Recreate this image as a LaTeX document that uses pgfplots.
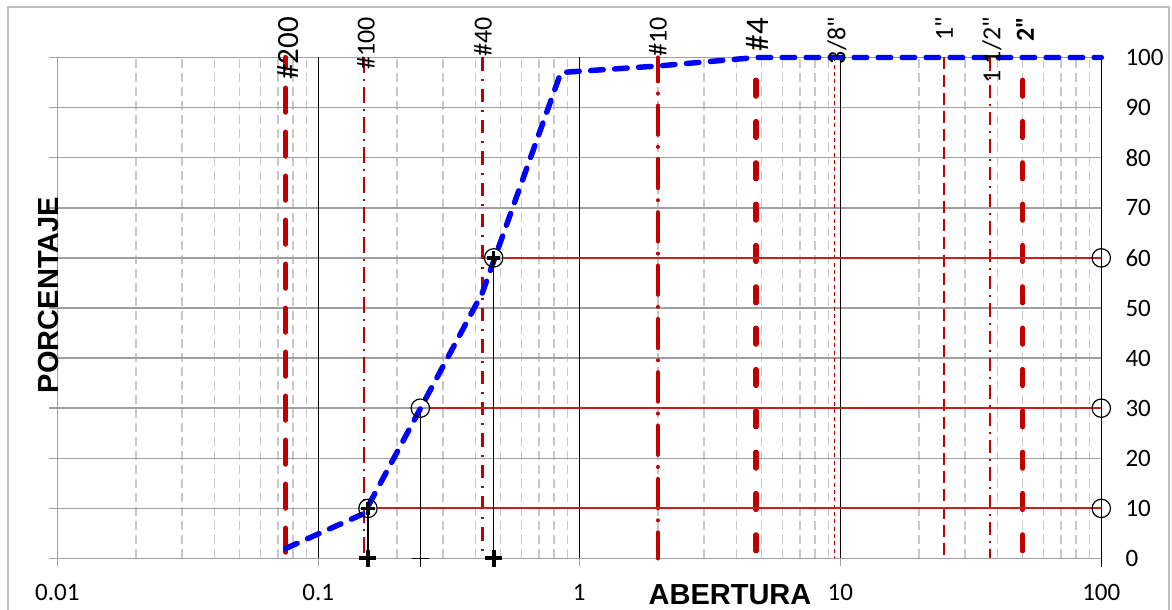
\documentclass[border=0pt]{standalone}
\usepackage{pgfplots}
\pgfplotsset{compat=1.18}
\usepackage{fontspec}
\setmainfont{Carlito}
\newfontfamily\callab{Carlito}[Ligatures=ResetAll]
\newfontfamily\arialfont{Liberation Sans}
\definecolor{dred}{RGB}{192,0,0}
\definecolor{hred}{RGB}{200,30,30}
\definecolor{bluec}{RGB}{0,0,255}
\definecolor{gridgray}{RGB}{160,160,160}
\definecolor{minorgray}{RGB}{200,200,200}
\definecolor{bordergray}{RGB}{190,190,190}
\begin{document}
\begin{tikzpicture}
\begin{axis}[
  at={(0,0)}, anchor=south west,
  xmode=log, scale only axis, width=783pt, height=375.75pt,
  xmin=0.01, xmax=100, ymin=0, ymax=100, clip=false,
  axis line style={draw=gridgray, line width=1.1pt},
  xtick={0.01,0.1,1,10,100}, xticklabels={0.01,0.1,1,10,100},
  minor xtick={0.02,0.03,0.04,0.05,0.06,0.07,0.08,0.09,0.2,0.3,0.4,0.5,0.6,0.7,0.8,0.9,2,3,4,5,6,7,8,9,20,30,40,50,60,70,80,90},
  ytick={0,10,20,30,40,50,60,70,80,90,100},
  yticklabels={0,10,20,30,40,50,60,70,80,90,100},
  xtick pos=bottom, ytick pos=left, yticklabel pos=right,
  tick align=outside, major tick length=6pt, minor tick length=0pt,
  every tick/.style={gridgray, line width=1.1pt},
  ymajorgrids, xminorgrids,
  major grid style={gridgray, line width=1.1pt},
  minor grid style={minorgray, line width=1.1pt, dash pattern=on 6.75pt off 3.75pt},
  tick label style={font=\fontsize{18.75}{22}\selectfont, inner sep=0pt},
  xticklabel style={anchor=center, yshift=-19.5pt},
  yticklabel style={anchor=west, xshift=12pt},
]
% major vertical grid lines (black)
\addplot[black, line width=1pt] coordinates {(0.1,0) (0.1,100)};
\addplot[black, line width=1pt] coordinates {(1,0) (1,100)};
\addplot[black, line width=1pt] coordinates {(10,0) (10,100)};
\addplot[black, line width=1.1pt] coordinates {(100,-1.6) (100,100)};
% sieve lines
\addplot[dred, line width=3.9pt, line cap=round, dash pattern=on 18pt off 15pt, dash phase=10pt] coordinates {(0.075,100) (0.075,0)};
\addplot[dred, line width=1.3pt, dash pattern=on 12pt off 4.5pt on 1.5pt off 4.5pt] coordinates {(0.15,100) (0.15,0)};
\addplot[dred, line width=2.2pt, dash pattern=on 10pt off 6pt on 1.5pt off 6pt] coordinates {(0.425,100) (0.425,0)};
\addplot[dred, line width=3pt, line cap=round, dash pattern=on 22pt off 9pt on 0.01pt off 9pt, dash phase=4pt] coordinates {(2,100) (2,0)};
\addplot[dred, line width=3.9pt, line cap=round, dash pattern=on 12pt off 19pt, dash phase=14pt] coordinates {(4.75,100) (4.75,0)};
\addplot[dred, line width=1.2pt, dash pattern=on 3pt off 2.5pt] coordinates {(9.5,100) (9.5,0)};
\addplot[dred, line width=1.2pt, dash pattern=on 9pt off 4.5pt] coordinates {(25,100) (25,0)};
\addplot[dred, line width=1.4pt, dash pattern=on 10pt off 4.5pt on 1.5pt off 4.5pt] coordinates {(37.5,100) (37.5,0)};
\addplot[dred, line width=3.9pt, line cap=round, dash pattern=on 12pt off 19pt, dash phase=14pt] coordinates {(50,100) (50,0)};
% D lines
\addplot[hred, line width=1.5pt] coordinates {(0.169,10) (100,10)};
\addplot[hred, line width=1.5pt] coordinates {(0.269,30) (100,30)};
\addplot[hred, line width=1.5pt] coordinates {(0.513,60) (100,60)};
\addplot[black, line width=1.1pt] coordinates {(0.155,10) (0.155,0)};
\addplot[black, line width=1.1pt] coordinates {(0.246,30) (0.246,0)};
\addplot[black, line width=1.1pt] coordinates {(0.47,60) (0.47,0)};
% gradation curve
\addplot[bluec, line width=4.1pt, line cap=round, line join=round, dash pattern=on 9.4pt off 8.6pt] coordinates {(0.075,2) (0.15,9) (0.425,53) (0.85,97) (2,98.3) (4.75,100) (9.5,100) (25,100) (50,100) (100,100)};
% markers
\addplot[only marks, mark=o, mark size=6.9pt, mark options={black, line width=0.9pt}] coordinates {(0.155,10) (0.246,30) (0.47,60) (100,10) (100,30) (100,60)};
\addplot[only marks, mark=+, mark size=5pt, mark options={black, line width=2.5pt}] coordinates {(0.155,10) (0.47,60)};
\addplot[only marks, mark=+, mark size=6.4pt, mark options={black, line width=3pt}] coordinates {(0.155,0) (0.47,0)};
\addplot[only marks, mark=+, mark size=6.4pt, mark options={black, line width=1.1pt}] coordinates {(0.246,0)};
\end{axis}
\begin{scope}[shift={(-42.975pt,418.875pt)}, x=0.75pt, y=-0.75pt]
\draw[bordergray, line width=1.2pt] (8,612) -- (8,7) -- (1169,7) -- (1169,612);
\node[font=\arialfont\bfseries\fontsize{21.75}{24}\selectfont, inner sep=0pt] at (730,595) {ABERTURA};
\node[font=\arialfont\bfseries\fontsize{21.75}{24}\selectfont, inner sep=0pt, rotate=90] at (49,295) {PORCENTAJE};
\tikzset{toplab/.style={rotate=90, anchor=east, inner sep=0pt, font=\callab\fontsize{19.5}{22}\selectfont}}
\node[toplab, font=\callab\fontsize{23.25}{26}\selectfont] at (288,17) {\#200};
\node[toplab] at (366,17) {\#100};
\node[toplab] at (483,17) {\#40};
\node[toplab] at (658,17) {\#10};
\node[toplab, font=\callab\fontsize{24.75}{27}\selectfont] at (757,18) {\#4};
\node[toplab] at (837,17) {3/8"};
\node[toplab] at (944,17) {1"};
\node[toplab] at (992,17) {1 1/2"};
\node[toplab, font=\callab\bfseries\fontsize{19.5}{22}\selectfont] at (1025,17) {2"};
\pgfresetboundingbox
\path[use as bounding box] (0,0) rectangle (1172,610);
\end{scope}
\end{tikzpicture}
\end{document}
